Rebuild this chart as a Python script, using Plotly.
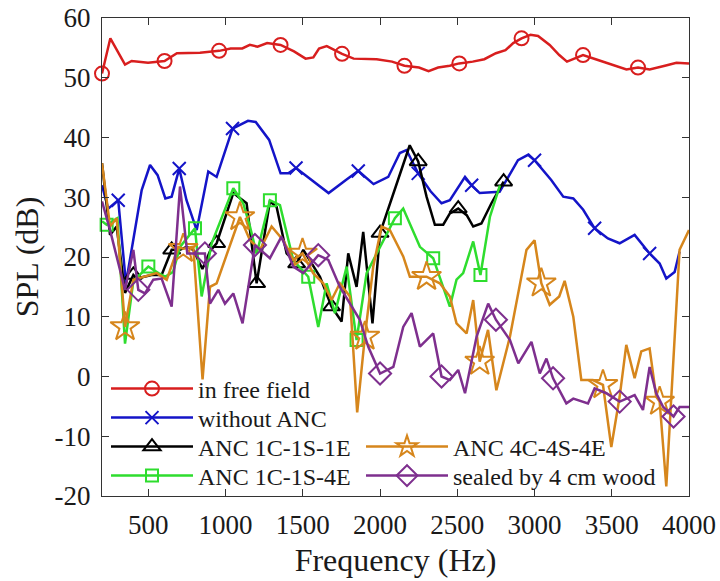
import plotly.graph_objects as go

# ---------------- data ----------------
free_f = [200, 254, 349, 392, 498, 605, 685, 834, 958, 1033, 1108, 1157, 1207, 1269, 1356, 1443, 1518, 1568,
          1605, 1655, 1754, 1829, 1978, 2078, 2158, 2252, 2314, 2376, 2451, 2513, 2600, 2675, 2750, 2812, 2862,
          2916, 2974, 3023, 3098, 3160, 3210, 3314, 3396, 3496, 3595, 3670, 3745, 3844, 3919, 4000]
free_v = [50.7, 56.6, 52.2, 52.8, 52.5, 52.8, 54.1, 54.2, 54.5, 54.9, 54.9, 55.5, 55.2, 55.8, 55.5, 54.4, 53.2, 53.4,
          54.9, 55.3, 54.0, 53.2, 53.1, 52.7, 52.0, 51.7, 51.1, 51.7, 52.0, 52.4, 52.7, 53.1, 54.1, 54.6, 55.8,
          56.6, 57.2, 57.0, 55.5, 53.8, 52.7, 53.8, 53.1, 52.2, 51.4, 51.7, 51.4, 52.0, 52.5, 52.4]
free_m = [200, 605, 958, 1356, 1754, 2158, 2513, 2916, 3314, 3670]

noanc_f = [200, 240, 305, 355, 457, 511, 560, 610, 651, 700, 747, 813, 888, 942, 1045, 1145, 1195, 1282, 1356,
           1406, 1456, 1531, 1605, 1667, 1779, 1859, 1958, 2053, 2128, 2171, 2247, 2327, 2398, 2452, 2550, 2593,
           2645, 2774, 2893, 2958, 3000, 3108, 3186, 3251, 3315, 3389, 3475, 3551, 3648, 3745, 3810, 3853, 3907, 3939]
noanc_v = [32.0, 28.1, 29.5, 15.6, 31.2, 35.4, 33.7, 29.8, 30.1, 34.8, 29.5, 24.5, 34.3, 33.4, 41.5, 42.8, 42.6,
           39.6, 34.0, 34.0, 34.9, 33.4, 32.0, 30.7, 32.9, 34.4, 32.2, 33.4, 37.4, 37.9, 34.0, 31.0, 29.0, 29.5,
           33.4, 32.0, 30.7, 30.9, 36.2, 37.1, 36.2, 32.9, 30.1, 29.8, 27.9, 24.8, 23.1, 22.3, 23.7, 20.6, 18.9,
           16.4, 17.5, 20.9]
noanc_m = [305, 700, 1045, 1456, 1859, 2247, 2593, 3000, 3389, 3745]

a111_f = [200, 252, 295, 349, 403, 424, 521, 586, 651, 705, 748, 791, 850, 900, 942, 1050, 1136, 1201, 1287,
          1330, 1395, 1460, 1503, 1611, 1686, 1751, 1794, 1848, 1891, 1951, 2000, 2192, 2247, 2301, 2355, 2409,
          2452, 2506, 2561, 2603, 2656, 2721, 2800]
a111_v = [35.7, 23.7, 25.1, 14.0, 17.0, 16.4, 17.0, 17.0, 21.2, 21.2, 21.7, 21.2, 18.0, 21.0, 22.3, 30.7, 29.0,
          15.6, 29.3, 28.4, 20.6, 18.9, 21.2, 16.7, 11.7, 9.2, 20.6, 15.0, 24.2, 8.9, 24.0, 38.7, 36.0, 30.1,
          25.4, 25.4, 27.3, 28.1, 27.0, 25.1, 25.6, 29.0, 32.6]
a111_m = [403, 651, 942, 1201, 1460, 1686, 2000, 2247, 2506, 2800]

a114_f = [200, 230, 300, 349, 403, 500, 565, 608, 660, 705, 802, 845, 910, 1050, 1114, 1158, 1201, 1287, 1352,
          1438, 1535, 1600, 1654, 1708, 1784, 1848, 1913, 2021, 2096, 2150, 2258, 2344, 2452, 2495, 2538, 2603,
          2650, 2711, 2776]
a114_v = [26.0, 25.4, 26.5, 5.5, 16.0, 18.4, 17.3, 16.7, 17.5, 21.7, 24.8, 13.4, 22.3, 31.5, 29.0, 25.1, 20.5,
          29.5, 28.7, 19.5, 16.7, 8.3, 15.6, 10.6, 18.4, 6.1, 17.3, 22.8, 26.5, 28.1, 21.7, 19.8, 11.7, 16.2,
          17.3, 22.6, 17.0, 26.7, 32.0]
a114_m = [230, 500, 802, 1050, 1287, 1535, 1848, 2096, 2344, 2650]

a444_f = [200, 252, 295, 349, 403, 554, 619, 694, 726, 791, 851, 899, 942, 1093, 1158, 1223, 1298, 1373, 1438,
          1498, 1567, 1632, 1686, 1740, 1805, 1852, 1902, 1956, 2010, 2064, 2150, 2193, 2301, 2387, 2452, 2495,
          2560, 2603, 2645, 2699, 2753, 2841, 2948, 3000, 3044, 3098, 3160, 3195, 3251, 3303, 3378, 3443, 3497,
          3551, 3594, 3648, 3691, 3745, 3788, 3810, 3853, 3939, 4000]
a444_v = [35.7, 25.1, 26.5, 8.3, 16.2, 17.3, 16.2, 21.7, 21.4, 21.7, -0.5, 15.0, 15.6, 26.7, 22.8, 21.2, 25.1,
          22.8, 19.5, 20.6, 17.3, 15.6, 12.8, 15.6, 13.4, -6.0, 6.7, 18.4, 25.1, 24.5, 20.1, 16.7, 16.7, 15.6,
          13.4, 8.9, 7.2, 12.8, 2.5, 7.8, -2.3, 6.7, 21.2, 22.8, 15.6, 12.0, 13.4, 16.0, 10.0, -0.6, -0.6, -1.4,
          -11.8, -3.4, 5.3, -0.3, 4.2, 4.7, -3.4, -4.2, -18.4, 21.2, 24.5]
a444_m = [349, 726, 1093, 1498, 1902, 2301, 2645, 3044, 3443, 3810]

wood_f = [200, 252, 349, 403, 435, 478, 532, 586, 651, 705, 752, 834, 866, 899, 953, 996, 1050, 1110, 1190,
          1287, 1362, 1438, 1503, 1600, 1665, 1740, 1869, 1923, 2000, 2086, 2150, 2204, 2258, 2344, 2398, 2452,
          2506, 2550, 2625, 2700, 2750, 2841, 2895, 2980, 3034, 3077, 3120, 3206, 3251, 3346, 3389, 3465, 3551,
          3648, 3702, 3745, 3788, 3833, 3900, 3939, 4000]
wood_v = [29.3, 24.5, 14.5, 21.2, 14.5, 13.9, 16.2, 16.4, 11.7, 31.8, 20.6, 20.6, 20.6, 12.2, 14.5, 12.2, 13.9,
          8.9, 22.0, 19.8, 23.4, 18.4, 17.3, 20.3, 19.5, 15.0, 9.5, 5.0, 0.5, 1.6, 8.3, 10.6, 5.0, 7.2, 0.0, -0.6,
          1.1, -2.8, 6.7, 12.2, 9.5, 6.1, 2.2, 5.8, 0.5, 3.0, -0.3, -4.5, -3.7, -4.5, -2.0, -2.8, -4.2, -3.1, -5.6,
          1.6, -2.8, -5.1, -6.7, -5.1, -5.1]
wood_m = [435, 866, 1190, 1600, 2000, 2398, 2750, 3120, 3551, 3900]

x_ticks = [500, 1000, 1500, 2000, 2500, 3000, 3500, 4000]
x_labels = ["500", "1000", "1500", "2000", "2500", "3000", "3500", "4000"]
y_ticks = [-20, -10, 0, 10, 20, 30, 40, 50, 60]
y_labels = ["-20", "-10", "0", "10", "20", "30", "40", "50", "60"]

# ---------------- figure ----------------
FONT = "Liberation Serif, Times New Roman, serif"
TXT = "#1a1a1a"
series = [
    ("in free field", free_f, free_v, free_m, "#D81E1E", "circle-open", 14),
    ("without ANC", noanc_f, noanc_v, noanc_m, "#1414C8", "x-thin-open", 13),
    ("ANC 1C-1S-1E", a111_f, a111_v, a111_m, "#000000", "triangle-up-open", 15),
    ("ANC 1C-1S-4E", a114_f, a114_v, a114_m, "#2EDD2E", "square-open", 12),
    ("ANC 4C-4S-4E", a444_f, a444_v, a444_m, "#D6861C", "star-open", 22),
    ("sealed by 4 cm wood", wood_f, wood_v, wood_m, "#7E2F8E", "diamond-open", 17),
]
# legend slot for each series: (legend id, left px of sample line, row centre px)
leg_pos = [("legend", 112, 389), ("legend2", 112, 418), ("legend3", 112, 447), ("legend4", 112, 476),
           ("legend5", 367, 447), ("legend6", 367, 476)]

PX0, PX1, PY0, PY1 = 102, 689, 18, 496

fig = go.Figure()
layout_legends = {}
for (name, fx, fy, fm, col, sym, msz), (lid, lx, ly) in zip(series, leg_pos):
    fig.add_trace(go.Scatter(x=fx, y=fy, mode="lines", line=dict(color=col, width=2.5),
                             showlegend=False, hoverinfo="skip"))
    idx = [i for i, f in enumerate(fx) if f in fm]
    fig.add_trace(go.Scatter(x=[fx[i] for i in idx], y=[fy[i] for i in idx], mode="markers",
                             marker=dict(symbol=sym, size=msz, color=col, line=dict(color=col, width=2)),
                             showlegend=False, cliponaxis=False))
    fig.add_trace(go.Scatter(x=[None], y=[None], mode="lines+markers", name=name, legend=lid,
                             line=dict(color=col, width=2.5),
                             marker=dict(symbol=sym, size=msz, color=col, line=dict(color=col, width=2))))
    layout_legends[lid] = dict(
        x=(lx - 6 - PX0) / (PX1 - PX0), y=(PY1 - ly) / (PY1 - PY0),
        xanchor="left", yanchor="middle", bgcolor="rgba(0,0,0,0)",
        font=dict(family=FONT, size=24, color=TXT), itemwidth=82)

axis_common = dict(showline=True, linecolor="#333333", linewidth=1, mirror="ticks", ticks="inside",
                   ticklen=7, tickcolor="#333333", showgrid=False, zeroline=False, automargin=False,
                   tickfont=dict(family=FONT, size=27, color=TXT))

fig.update_layout(
    width=720, height=581,
    margin=dict(l=PX0, r=720 - PX1, t=PY0, b=581 - PY1),
    paper_bgcolor="white", plot_bgcolor="white",
    xaxis=dict(range=[200, 4000], tickvals=x_ticks, ticktext=x_labels, ticklabelstandoff=5,
               title=dict(text="Frequency (Hz)", font=dict(family=FONT, size=32, color=TXT), standoff=9),
               **axis_common),
    yaxis=dict(range=[-20, 60], tickvals=y_ticks, ticktext=y_labels, ticklabelstandoff=5,
               title=dict(text="SPL (dB)", font=dict(family=FONT, size=32, color=TXT), standoff=6),
               **axis_common),
    **layout_legends,
)

fig.write_html("out.html")
